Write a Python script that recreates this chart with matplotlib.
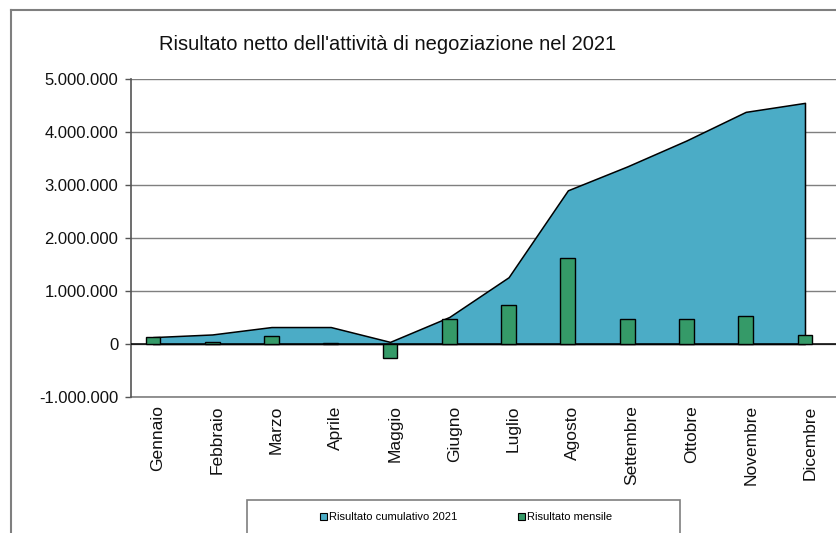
import matplotlib
matplotlib.use("Agg")
import matplotlib.pyplot as plt
import matplotlib.transforms as mtransforms
from matplotlib.patches import Rectangle
from matplotlib.ticker import FuncFormatter, MultipleLocator
import numpy as np

plt.rcParams["font.family"] = ["Liberation Sans", "DejaVu Sans"]

# dati
mesi = ["Gennaio", "Febbraio", "Marzo", "Aprile", "Maggio", "Giugno",
        "Luglio", "Agosto", "Settembre", "Ottobre", "Novembre", "Dicembre"]
cumulativo = [130000, 180000, 320000, 320000, 40000, 510000,
              1260000, 2900000, 3350000, 3840000, 4380000, 4550000]
mensile = [130000, 40000, 145000, 10000, -270000, 480000,
           740000, 1620000, 480000, 465000, 530000, 170000]

col_area = "#4BACC6"
col_bar = "#359A68"

fig = plt.figure(figsize=(8.37, 5.33), dpi=100)
ax = fig.add_axes([131 / 837, 1 - 397 / 533, 1 - 131 / 837, (397 - 79) / 533])

x = np.arange(len(mesi))
ax.fill_between(x, cumulativo, 0, facecolor=col_area, edgecolor="black",
                linewidth=1.1, zorder=2, label="Risultato cumulativo 2021")
ax.axhline(0, color="black", linewidth=1.1, zorder=3)
ax.bar(x, mensile, width=0.25, color=col_bar, edgecolor="black",
       linewidth=1.0, zorder=4, label="Risultato mensile")

ax.set_ylim(-1000000, 5000000)
ax.set_xlim(-0.37, 11.54)
ax.yaxis.set_major_locator(MultipleLocator(1000000))
ax.yaxis.set_major_formatter(FuncFormatter(lambda v, p: f"{int(v):,}".replace(",", ".")))
ax.grid(axis="y", color="#7f7f7f", linewidth=1.0, zorder=0)
ax.axhline(-1000000, color="#7f7f7f", linewidth=1.2, zorder=1, clip_on=False)
ax.set_axisbelow(True)

ax.set_xticks(x)
ax.set_xticklabels(mesi, rotation=90, fontsize=12.5, color="#111111")
ax.tick_params(axis="x", length=0, pad=6)
ax.tick_params(axis="y", length=4, width=1, color="#555555", labelsize=12, pad=5,
               labelcolor="#111111")
# etichette mesi leggermente spostate a destra
off = mtransforms.ScaledTranslation(5 / 100, 0, fig.dpi_scale_trans)
for lab in ax.get_xticklabels():
    lab.set_transform(lab.get_transform() + off)

for s in ["top", "right", "bottom"]:
    ax.spines[s].set_visible(False)
ax.spines["left"].set_color("#555555")
ax.spines["left"].set_linewidth(1.2)

fig.text(0.4625, 1 - 45 / 533, "Risultato netto dell'attività di negoziazione nel 2021",
         ha="center", va="center", fontsize=14.5, color="#111111")

# cornice esterna
fig.add_artist(plt.Line2D([11 / 837, 11 / 837], [0, 1 - 10 / 533], color="#7f7f7f", linewidth=1.5))
fig.add_artist(plt.Line2D([11 / 837, 1], [1 - 10 / 533, 1 - 10 / 533], color="#7f7f7f", linewidth=1.5))

# riquadro legenda
fig.add_artist(Rectangle((247 / 837, -0.05), (680 - 247) / 837, 0.05 + 1 - 500 / 533,
                         transform=fig.transFigure, facecolor="white",
                         edgecolor="#7f7f7f", linewidth=1.2))
h = [Rectangle((0, 0), 1, 1, facecolor=col_area, edgecolor="black", linewidth=0.8),
     Rectangle((0, 0), 1, 1, facecolor=col_bar, edgecolor="black", linewidth=0.8)]
fig.legend(h, ["Risultato cumulativo 2021", "Risultato mensile"], ncol=2,
           loc="center", bbox_to_anchor=(466 / 837, 1 - 517 / 533), frameon=False,
           fontsize=8, handlelength=0.6, handleheight=0.6, handletextpad=0.2,
           columnspacing=5.5)

fig.savefig("out.png", dpi=100)
